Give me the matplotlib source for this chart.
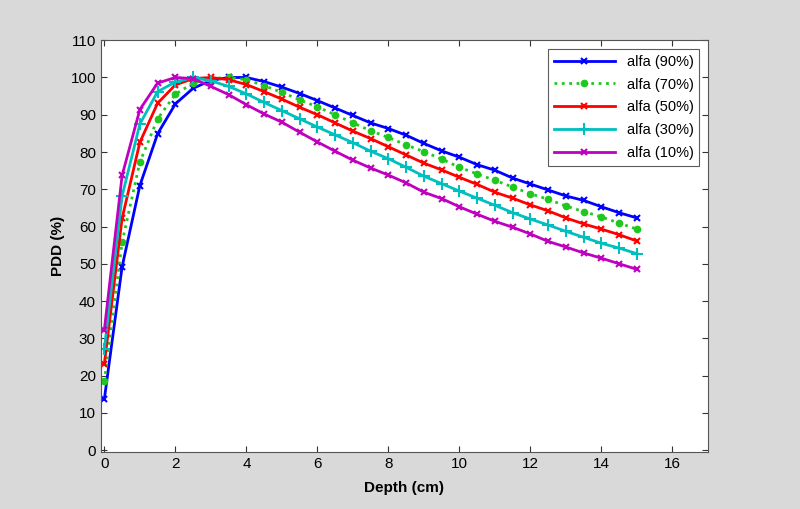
import numpy as np
import matplotlib
matplotlib.use('Agg')
import matplotlib.pyplot as plt

# depth points, 0 to 15 cm every 0.5 cm
depth = [0, 0.5, 1, 1.5, 2, 2.5, 3, 3.5, 4, 4.5, 5, 5.5, 6, 6.5, 7, 7.5,
         8, 8.5, 9, 9.5, 10, 10.5, 11, 11.5, 12, 12.5, 13, 13.5, 14, 14.5, 15]

alfa_90 = [13.7, 49.2, 71.0, 84.9, 92.9, 97.1, 99.2, 100.0, 100.0, 98.9, 97.4, 95.7,
           93.8, 91.8, 89.8, 87.8, 86.3, 84.5, 82.3, 80.3, 78.6, 76.6, 75.1, 73.0,
           71.4, 69.8, 68.2, 67.0, 65.3, 63.7, 62.3]
alfa_70 = [18.5, 55.8, 77.3, 88.9, 95.5, 98.5, 99.7, 100.0, 99.4, 97.8, 96.0, 94.0,
           92.1, 90.0, 87.8, 85.7, 83.9, 81.9, 80.1, 78.1, 75.9, 74.1, 72.4, 70.6,
           68.8, 67.3, 65.5, 64.0, 62.6, 60.9, 59.3]
alfa_50 = [23.2, 62.2, 82.6, 93.1, 98.0, 99.7, 100.0, 99.4, 98.1, 96.2, 94.2, 92.0,
           90.0, 87.8, 85.6, 83.6, 81.4, 79.2, 77.0, 75.2, 73.2, 71.3, 69.2, 67.6,
           65.8, 64.2, 62.3, 60.7, 59.3, 57.8, 56.1]
alfa_30 = [27.2, 68.2, 87.5, 96.2, 98.8, 100.0, 99.1, 97.6, 95.6, 93.3, 91.1, 88.9,
           86.7, 84.6, 82.5, 80.2, 78.2, 75.9, 73.5, 71.5, 69.5, 67.6, 65.7, 63.7,
           62.0, 60.4, 58.7, 57.1, 55.5, 54.2, 52.7]
alfa_10 = [32.3, 73.7, 91.4, 98.5, 100.0, 99.7, 97.6, 95.4, 92.7, 90.2, 88.0, 85.3,
           82.7, 80.2, 77.8, 75.7, 73.8, 71.7, 69.2, 67.5, 65.3, 63.3, 61.4, 59.8,
           58.0, 56.0, 54.5, 52.9, 51.5, 50.0, 48.5]

labels = ['alfa (90%)', 'alfa (70%)', 'alfa (50%)', 'alfa (30%)', 'alfa (10%)']

plt.rcParams['font.family'] = ['Liberation Sans', 'DejaVu Sans']

fig = plt.figure(figsize=(8, 5.09), dpi=100, facecolor='#d9d9d9')
ax = fig.add_axes([0.126, 0.112, 0.759, 0.809])

ax.plot(depth, alfa_90, color='#0000ff', lw=2, marker='x', ms=5, mew=1.5, label=labels[0])
ax.plot(depth, alfa_70, color='#1ec81e', lw=2, ls=':', marker='o', ms=4.5, label=labels[1])
ax.plot(depth, alfa_50, color='#ff0000', lw=2, marker='x', ms=5, mew=1.5, label=labels[2])
ax.plot(depth, alfa_30, color='#00bfbf', lw=2, marker='+', ms=8, mew=1.5, label=labels[3])
ax.plot(depth, alfa_10, color='#bf00bf', lw=2, marker='x', ms=5, mew=1.5, label=labels[4])

ax.set_xlim(-0.1, 17)
ax.set_ylim(-0.5, 110)
ax.set_xticks(np.arange(0, 17, 2))
ax.set_yticks(np.arange(0, 111, 10))
ax.tick_params(direction='in', top=True, right=True, labelsize=11, length=4, color='#333333')
for s in ax.spines.values():
    s.set_color('#555555')

ax.set_xlabel('Depth (cm)', fontsize=11, fontweight='bold', labelpad=7)
ax.set_ylabel('PDD (%)', fontsize=11, fontweight='bold')

leg = ax.legend(loc='upper right', fontsize=10.5, handlelength=4.2, frameon=True,
                fancybox=False, edgecolor='#333333', borderaxespad=0.6, labelspacing=0.6)
leg.get_frame().set_linewidth(0.8)

fig.savefig('out.png', dpi=100, facecolor=fig.get_facecolor())
